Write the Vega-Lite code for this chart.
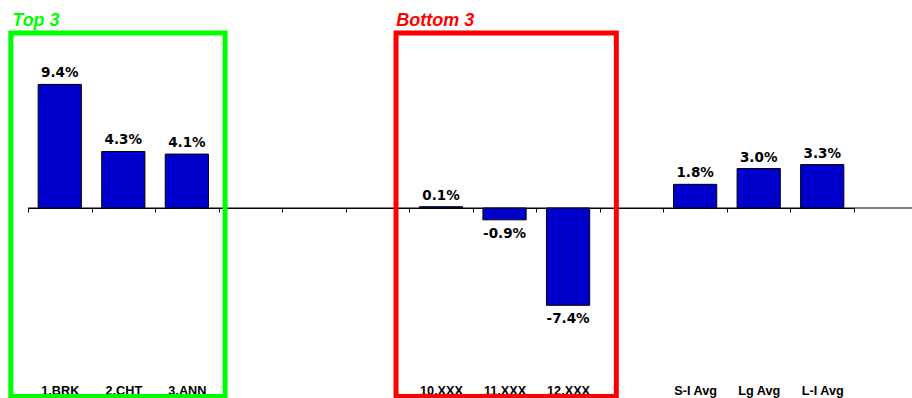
{
  "$schema": "https://vega.github.io/schema/vega-lite/v6.json",
  "width": 884,
  "height": 398,
  "autosize": {"type": "none"},
  "padding": {"left": 28, "top": 0, "right": 0, "bottom": 0},
  "background": "white",
  "config": {
    "view": {"stroke": null},
    "locale": {"number": {"decimal": ".", "thousands": ",", "grouping": [3], "currency": ["$", ""], "minus": "-"}},
    "axisX": {
      "orient": "bottom", "offset": -190, "title": null,
      "domain": true, "domainColor": "black", "domainWidth": 1,
      "ticks": true, "tickColor": "black", "tickSize": 4, "tickBand": "extent",
      "labelPadding": 182, "labelBaseline": "alphabetic", "labelFont": "Liberation Sans", "labelFontWeight": "bold",
      "labelFontSize": 12.7, "labelColor": "black", "labelAngle": 0,
      "grid": false
    }
  },
  "datasets": {
    "bars": [
      {"name": "1.BRK", "value": 0.094},
      {"name": "2.CHT", "value": 0.043},
      {"name": "3.ANN", "value": 0.041},
      {"name": "10.XXX", "value": 0.001},
      {"name": "11.XXX", "value": -0.009},
      {"name": "12.XXX", "value": -0.074},
      {"name": "S-I Avg", "value": 0.018},
      {"name": "Lg Avg", "value": 0.030},
      {"name": "L-I Avg", "value": 0.033}
    ],
    "boxes": [
      {"label": "Top 3", "from": "1.BRK", "to": "3.ANN", "color": "#00FF00"},
      {"label": "Bottom 3", "from": "10.XXX", "to": "12.XXX", "color": "#FF0000"}
    ]
  },
  "layer": [
    {
      "data": {"values": [{}]},
      "mark": {"type": "rule", "color": "black", "strokeWidth": 1},
      "encoding": {
        "y": {"datum": 0, "type": "quantitative", "scale": {"domain": [-0.1445, 0.1582], "nice": false, "zero": false}, "axis": null}
      }
    },
    {
      "data": {"name": "bars"},
      "mark": {"type": "bar", "color": "#0000CC", "stroke": "black", "strokeWidth": 1, "width": {"band": 0.68}},
      "encoding": {
        "x": {
          "field": "name", "type": "nominal",
          "scale": {"type": "band", "domain": ["1.BRK", "2.CHT", "3.ANN", "_4", "_5", "_6", "10.XXX", "11.XXX", "12.XXX", "_10", "S-I Avg", "Lg Avg", "L-I Avg"], "range": [0, 826], "paddingInner": 0, "paddingOuter": 0},
          "axis": {"title": null, "labelExpr": "substring(datum.label,0,1)=='_' ? '' : datum.label"}
        },
        "y": {"field": "value", "type": "quantitative", "scale": {"domain": [-0.1445, 0.1582], "nice": false, "zero": false}, "axis": null},
        "y2": {"datum": 0}
      }
    },
    {
      "data": {"name": "bars"},
      "transform": [{"filter": "datum.value >= 0"}],
      "mark": {"type": "text", "baseline": "alphabetic", "dy": -7, "font": "DejaVu Sans", "fontWeight": "bold", "fontSize": 13.5, "color": "black"},
      "encoding": {
        "x": {"field": "name", "type": "nominal", "axis": {"title": null, "labelExpr": "substring(datum.label,0,1)=='_' ? '' : datum.label"}},
        "y": {"field": "value", "type": "quantitative", "axis": null},
        "text": {"field": "value", "type": "quantitative", "format": ".1%"}
      }
    },
    {
      "data": {"name": "bars"},
      "transform": [{"filter": "datum.value < 0"}],
      "mark": {"type": "text", "baseline": "top", "dy": 7, "font": "DejaVu Sans", "fontWeight": "bold", "fontSize": 13.5, "color": "black"},
      "encoding": {
        "x": {"field": "name", "type": "nominal", "axis": {"title": null, "labelExpr": "substring(datum.label,0,1)=='_' ? '' : datum.label"}},
        "y": {"field": "value", "type": "quantitative", "axis": null},
        "text": {"field": "value", "type": "quantitative", "format": ".1%"}
      }
    },
    {
      "data": {"name": "boxes"},
      "transform": [{"filter": "datum.label == 'Top 3'"}],
      "mark": {"type": "rect", "filled": false, "strokeWidth": 5, "xOffset": -17.2, "x2Offset": 6.5},
      "encoding": {
        "x": {"field": "from", "type": "nominal", "bandPosition": 0, "axis": {"title": null, "labelExpr": "substring(datum.label,0,1)=='_' ? '' : datum.label"}},
        "x2": {"field": "to", "bandPosition": 1},
        "y": {"datum": 0.1331, "type": "quantitative", "axis": null},
        "y2": {"datum": -0.1433},
        "stroke": {"field": "color", "type": "nominal", "scale": null}
      }
    },
    {
      "data": {"name": "boxes"},
      "transform": [{"filter": "datum.label == 'Bottom 3'"}],
      "mark": {"type": "rect", "filled": false, "strokeWidth": 5, "xOffset": -13.2, "x2Offset": 16.5},
      "encoding": {
        "x": {"field": "from", "type": "nominal", "bandPosition": 0, "axis": {"title": null, "labelExpr": "substring(datum.label,0,1)=='_' ? '' : datum.label"}},
        "x2": {"field": "to", "bandPosition": 1},
        "y": {"datum": 0.1331, "type": "quantitative", "axis": null},
        "y2": {"datum": -0.1433},
        "stroke": {"field": "color", "type": "nominal", "scale": null}
      }
    },
    {
      "data": {"name": "boxes"},
      "transform": [{"filter": "datum.label == 'Top 3'"}],
      "mark": {"type": "text", "align": "left", "baseline": "alphabetic", "xOffset": -15.7, "font": "Liberation Sans", "fontWeight": "bold", "fontStyle": "italic", "fontSize": 18},
      "encoding": {
        "x": {"field": "from", "type": "nominal", "bandPosition": 0, "axis": {"title": null, "labelExpr": "substring(datum.label,0,1)=='_' ? '' : datum.label"}},
        "y": {"datum": 0.1384, "type": "quantitative", "axis": null},
        "text": {"field": "label"},
        "color": {"field": "color", "type": "nominal", "scale": null}
      }
    },
    {
      "data": {"name": "boxes"},
      "transform": [{"filter": "datum.label == 'Bottom 3'"}],
      "mark": {"type": "text", "align": "left", "baseline": "alphabetic", "xOffset": -13, "font": "Liberation Sans", "fontWeight": "bold", "fontStyle": "italic", "fontSize": 18},
      "encoding": {
        "x": {"field": "from", "type": "nominal", "bandPosition": 0, "axis": {"title": null, "labelExpr": "substring(datum.label,0,1)=='_' ? '' : datum.label"}},
        "y": {"datum": 0.1384, "type": "quantitative", "axis": null},
        "text": {"field": "label"},
        "color": {"field": "color", "type": "nominal", "scale": null}
      }
    }
  ]
}
